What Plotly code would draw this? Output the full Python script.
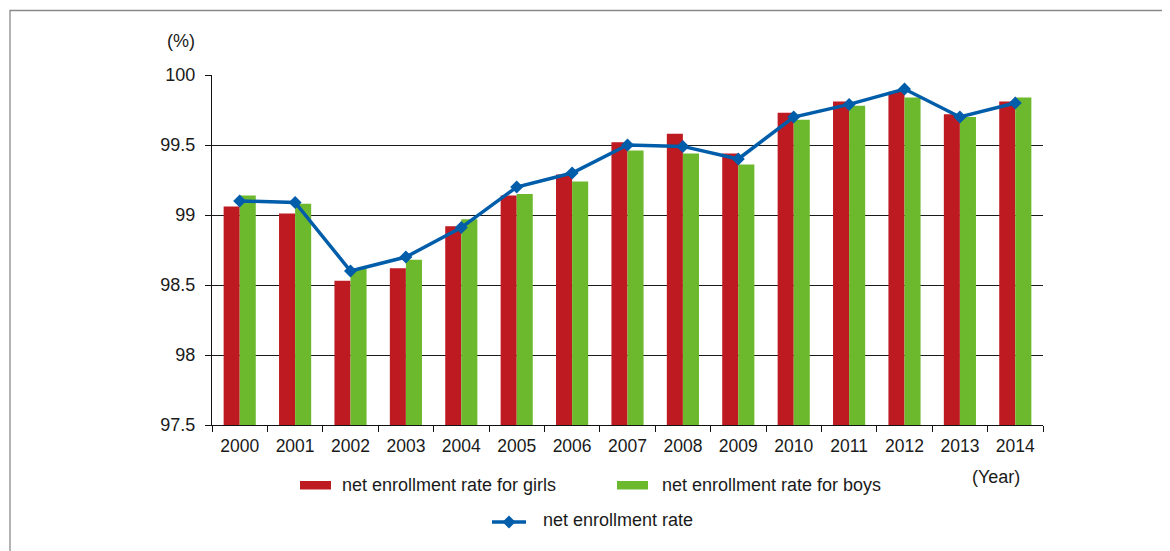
import plotly.graph_objects as go

years = ["2000", "2001", "2002", "2003", "2004", "2005", "2006", "2007",
         "2008", "2009", "2010", "2011", "2012", "2013", "2014"]
girls = [99.06, 99.01, 98.53, 98.62, 98.92, 99.14, 99.29, 99.52,
         99.58, 99.44, 99.73, 99.81, 99.88, 99.72, 99.81]
boys = [99.14, 99.08, 98.62, 98.68, 98.97, 99.15, 99.24, 99.46,
        99.44, 99.36, 99.68, 99.78, 99.84, 99.70, 99.84]
total = [99.10, 99.09, 98.60, 98.70, 98.91, 99.20, 99.30, 99.50,
         99.49, 99.40, 99.70, 99.79, 99.90, 99.70, 99.80]
y_ticks = [97.5, 98, 98.5, 99, 99.5, 100]
y_tick_text = ["97.5", "98", "98.5", "99", "99.5", "100"]

RED = "#BE1A22"
GREEN = "#6DB92E"
BLUE = "#005DAA"
TXT = "#1a1a1a"
FONT = "Liberation Sans, Arial, sans-serif"

OFF = 8  # page body margin offset
W, H = 1170 - OFF, 551 - OFF
# target plot area in screen pixels
SL, SR, ST, SB = 212, 1043, 75, 425
L, R, T, B = SL - OFF, SR - OFF, ST - OFF, SB - OFF


def px(xs):
    return (xs - SL) / (SR - SL)


def py(ys):
    return (SB - ys) / (SB - ST)


fig = go.Figure()
fig.add_trace(go.Bar(x=years, y=girls, name="net enrollment rate for girls",
                     marker=dict(color=RED, line=dict(width=0)), base=0))
fig.add_trace(go.Bar(x=years, y=boys, name="net enrollment rate for boys",
                     marker=dict(color=GREEN, line=dict(width=0)), base=0))
fig.add_trace(go.Scatter(x=years, y=total, name="net enrollment rate",
                         mode="lines+markers",
                         line=dict(color=BLUE, width=3.5),
                         marker=dict(symbol="diamond", size=10, color=BLUE)))

shapes = [
    # outer frame
    dict(type="rect", xref="paper", yref="paper",
         x0=px(10), x1=px(1200), y0=py(600), y1=py(10.5),
         line=dict(color="#8a8a8a", width=1.3), fillcolor="rgba(0,0,0,0)",
         layer="below"),
    # legend swatches
    dict(type="rect", xref="paper", yref="paper",
         x0=px(300), x1=px(331), y0=py(489.5), y1=py(481),
         line=dict(width=0), fillcolor=RED),
    dict(type="rect", xref="paper", yref="paper",
         x0=px(617), x1=px(648), y0=py(489.5), y1=py(481),
         line=dict(width=0), fillcolor=GREEN),
    dict(type="line", xref="paper", yref="paper",
         x0=px(492), x1=px(526), y0=py(522), y1=py(522),
         line=dict(color=BLUE, width=3.5)),
    dict(type="path", xref="paper", yref="paper",
         path="M {a},{b} L {c},{d} L {a},{e} L {f},{d} Z".format(
             a=px(509), b=py(515.5), c=px(515.5), d=py(522), e=py(528.5), f=px(502.5)),
         line=dict(width=0), fillcolor=BLUE),
]

annotations = [
    dict(text="(%)", x=px(181), y=py(41), xref="paper", yref="paper",
         xanchor="center", yanchor="middle",
         showarrow=False, font=dict(size=18, color=TXT, family=FONT)),
    dict(text="(Year)", x=px(996), y=py(477), xref="paper", yref="paper",
         xanchor="center", yanchor="middle",
         showarrow=False, font=dict(size=18, color=TXT, family=FONT)),
    dict(text="net enrollment rate for girls", x=px(340), y=py(485),
         xref="paper", yref="paper", xanchor="left", yanchor="middle",
         showarrow=False, font=dict(size=18, color=TXT, family=FONT)),
    dict(text="net enrollment rate for boys", x=px(660), y=py(485),
         xref="paper", yref="paper", xanchor="left", yanchor="middle",
         showarrow=False, font=dict(size=18, color=TXT, family=FONT)),
    dict(text="net enrollment rate", x=px(541), y=py(520),
         xref="paper", yref="paper", xanchor="left", yanchor="middle",
         showarrow=False, font=dict(size=18, color=TXT, family=FONT)),
]

fig.update_layout(
    width=W, height=H,
    margin=dict(l=L, r=W - R, t=T, b=H - B, pad=0),
    paper_bgcolor="white", plot_bgcolor="white",
    barmode="group", bargap=0.42, bargroupgap=0,
    showlegend=False,
    font=dict(family=FONT, color=TXT),
    shapes=shapes, annotations=annotations,
)
fig.update_xaxes(
    type="category", range=[-0.5, len(years) - 0.5],
    tickson="boundaries", ticks="outside", ticklen=6,
    tickcolor="#111", tickwidth=1.2,
    showline=True, linecolor="#111", linewidth=1.2,
    showgrid=False, tickfont=dict(size=17.5, color=TXT, family=FONT),
    ticklabelstandoff=5,
)
fig.update_yaxes(
    range=[97.5, 100], tickvals=y_ticks, ticktext=y_tick_text,
    ticks="outside", ticklen=6, tickcolor="#111", tickwidth=1.2,
    showline=True, linecolor="#111", linewidth=1.2,
    showgrid=True, gridcolor="#1a1a1a", gridwidth=1.2,
    zeroline=False, tickfont=dict(size=18, color=TXT, family=FONT),
    ticklabelstandoff=6,
)

fig.write_html("out.html")
